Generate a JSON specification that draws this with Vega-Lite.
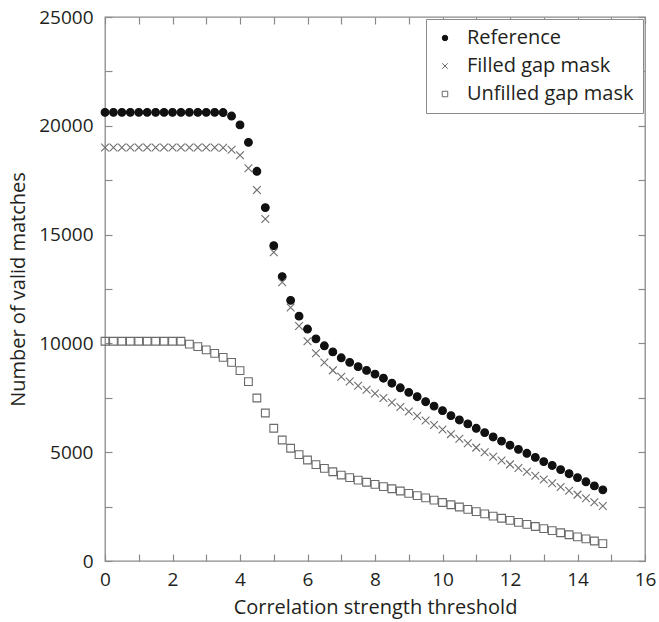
{
  "$schema": "https://vega.github.io/schema/vega-lite/v6.json",
  "width": 540,
  "height": 544,
  "autosize": {"type": "none"},
  "padding": {"left": 105, "top": 17, "right": 14, "bottom": 61},
  "background": "white",
  "config": {
    "font": "Open Sans",
    "view": {"stroke": "#8a8a8a", "strokeWidth": 1.3},
    "axis": {
      "grid": false,
      "domain": false,
      "tickColor": "#8a8a8a",
      "tickWidth": 1.2,
      "tickSize": -7,
      "labelColor": "#231f20",
      "titleColor": "#231f20",
      "labelFontSize": 19,
      "titleFontSize": 20,
      "titleFontWeight": "normal",
      "labelFlush": false,
      "labelOverlap": false
    },
    "legend": {
      "labelFontSize": 20,
      "labelColor": "#231f20",
      "labelLimit": 400,
      "symbolSize": 30,
      "symbolStrokeWidth": 1
    }
  },
  "data": {
    "values": [
      {"t": 0, "Reference": 20620, "Filled gap mask": 19000, "Unfilled gap mask": 10100},
      {"t": 0.25, "Reference": 20620, "Filled gap mask": 19000, "Unfilled gap mask": 10100},
      {"t": 0.5, "Reference": 20620, "Filled gap mask": 19000, "Unfilled gap mask": 10100},
      {"t": 0.75, "Reference": 20620, "Filled gap mask": 19000, "Unfilled gap mask": 10100},
      {"t": 1, "Reference": 20620, "Filled gap mask": 19000, "Unfilled gap mask": 10100},
      {"t": 1.25, "Reference": 20620, "Filled gap mask": 19000, "Unfilled gap mask": 10100},
      {"t": 1.5, "Reference": 20620, "Filled gap mask": 19000, "Unfilled gap mask": 10100},
      {"t": 1.75, "Reference": 20620, "Filled gap mask": 19000, "Unfilled gap mask": 10100},
      {"t": 2, "Reference": 20620, "Filled gap mask": 19000, "Unfilled gap mask": 10100},
      {"t": 2.25, "Reference": 20620, "Filled gap mask": 19000, "Unfilled gap mask": 10100},
      {"t": 2.5, "Reference": 20620, "Filled gap mask": 19000, "Unfilled gap mask": 9970},
      {"t": 2.75, "Reference": 20620, "Filled gap mask": 19000, "Unfilled gap mask": 9850},
      {"t": 3, "Reference": 20620, "Filled gap mask": 19000, "Unfilled gap mask": 9700},
      {"t": 3.25, "Reference": 20620, "Filled gap mask": 19000, "Unfilled gap mask": 9540},
      {"t": 3.5, "Reference": 20610, "Filled gap mask": 18990, "Unfilled gap mask": 9360},
      {"t": 3.75, "Reference": 20450, "Filled gap mask": 18900, "Unfilled gap mask": 9130},
      {"t": 4, "Reference": 20040, "Filled gap mask": 18650, "Unfilled gap mask": 8750},
      {"t": 4.25, "Reference": 19240, "Filled gap mask": 18050, "Unfilled gap mask": 8240},
      {"t": 4.5, "Reference": 17910, "Filled gap mask": 17050, "Unfilled gap mask": 7490},
      {"t": 4.75, "Reference": 16240, "Filled gap mask": 15720, "Unfilled gap mask": 6800},
      {"t": 5, "Reference": 14490, "Filled gap mask": 14190, "Unfilled gap mask": 6100},
      {"t": 5.25, "Reference": 13070, "Filled gap mask": 12810, "Unfilled gap mask": 5560},
      {"t": 5.5, "Reference": 11980, "Filled gap mask": 11650, "Unfilled gap mask": 5180},
      {"t": 5.75, "Reference": 11250, "Filled gap mask": 10800, "Unfilled gap mask": 4890},
      {"t": 6, "Reference": 10660, "Filled gap mask": 10100, "Unfilled gap mask": 4640},
      {"t": 6.25, "Reference": 10210, "Filled gap mask": 9550, "Unfilled gap mask": 4430},
      {"t": 6.5, "Reference": 9890, "Filled gap mask": 9120, "Unfilled gap mask": 4260},
      {"t": 6.75, "Reference": 9610, "Filled gap mask": 8760, "Unfilled gap mask": 4100},
      {"t": 7, "Reference": 9340, "Filled gap mask": 8470, "Unfilled gap mask": 3950},
      {"t": 7.25, "Reference": 9130, "Filled gap mask": 8250, "Unfilled gap mask": 3830},
      {"t": 7.5, "Reference": 8930, "Filled gap mask": 8050, "Unfilled gap mask": 3720},
      {"t": 7.75, "Reference": 8760, "Filled gap mask": 7870, "Unfilled gap mask": 3620},
      {"t": 8, "Reference": 8590, "Filled gap mask": 7700, "Unfilled gap mask": 3520},
      {"t": 8.25, "Reference": 8400, "Filled gap mask": 7490, "Unfilled gap mask": 3420},
      {"t": 8.5, "Reference": 8170, "Filled gap mask": 7280, "Unfilled gap mask": 3320},
      {"t": 8.75, "Reference": 7960, "Filled gap mask": 7080, "Unfilled gap mask": 3215},
      {"t": 9, "Reference": 7750, "Filled gap mask": 6870, "Unfilled gap mask": 3110},
      {"t": 9.25, "Reference": 7550, "Filled gap mask": 6660, "Unfilled gap mask": 3005},
      {"t": 9.5, "Reference": 7320, "Filled gap mask": 6460, "Unfilled gap mask": 2900},
      {"t": 9.75, "Reference": 7120, "Filled gap mask": 6250, "Unfilled gap mask": 2795},
      {"t": 10, "Reference": 6910, "Filled gap mask": 6040, "Unfilled gap mask": 2690},
      {"t": 10.25, "Reference": 6680, "Filled gap mask": 5830, "Unfilled gap mask": 2585},
      {"t": 10.5, "Reference": 6480, "Filled gap mask": 5620, "Unfilled gap mask": 2480},
      {"t": 10.75, "Reference": 6300, "Filled gap mask": 5410, "Unfilled gap mask": 2375},
      {"t": 11, "Reference": 6100, "Filled gap mask": 5210, "Unfilled gap mask": 2270},
      {"t": 11.25, "Reference": 5900, "Filled gap mask": 5000, "Unfilled gap mask": 2165},
      {"t": 11.5, "Reference": 5700, "Filled gap mask": 4790, "Unfilled gap mask": 2060},
      {"t": 11.75, "Reference": 5510, "Filled gap mask": 4620, "Unfilled gap mask": 1965},
      {"t": 12, "Reference": 5320, "Filled gap mask": 4440, "Unfilled gap mask": 1870},
      {"t": 12.25, "Reference": 5130, "Filled gap mask": 4270, "Unfilled gap mask": 1775},
      {"t": 12.5, "Reference": 4950, "Filled gap mask": 4100, "Unfilled gap mask": 1680},
      {"t": 12.75, "Reference": 4760, "Filled gap mask": 3920, "Unfilled gap mask": 1585},
      {"t": 13, "Reference": 4570, "Filled gap mask": 3750, "Unfilled gap mask": 1490},
      {"t": 13.25, "Reference": 4390, "Filled gap mask": 3570, "Unfilled gap mask": 1395},
      {"t": 13.5, "Reference": 4200, "Filled gap mask": 3400, "Unfilled gap mask": 1300},
      {"t": 13.75, "Reference": 4010, "Filled gap mask": 3230, "Unfilled gap mask": 1205},
      {"t": 14, "Reference": 3830, "Filled gap mask": 3050, "Unfilled gap mask": 1110},
      {"t": 14.25, "Reference": 3640, "Filled gap mask": 2880, "Unfilled gap mask": 1015},
      {"t": 14.5, "Reference": 3450, "Filled gap mask": 2700, "Unfilled gap mask": 920},
      {"t": 14.75, "Reference": 3270, "Filled gap mask": 2530, "Unfilled gap mask": 800}
    ]
  },
  "transform": [
    {"fold": ["Reference", "Filled gap mask", "Unfilled gap mask"], "as": ["series", "n"]}
  ],
  "layer": [
    {
      "mark": {"type": "point", "opacity": 1, "strokeWidth": 1.1, "size": 60},
      "encoding": {
        "x": {
          "field": "t", "type": "quantitative",
          "scale": {"domain": [0, 16], "nice": false, "zero": false},
          "axis": {
            "orient": "bottom",
            "values": [0,1,2,3,4,5,6,7,8,9,10,11,12,13,14,15,16],
            "labelExpr": "datum.value % 2 === 0 ? datum.label : ''",
            "labelPadding": 16,
            "title": "Correlation strength threshold",
            "titlePadding": 8
          }
        },
        "y": {
          "field": "n", "type": "quantitative",
          "scale": {"domain": [0, 25000], "nice": false},
          "axis": {
            "orient": "left",
            "values": [0,2500,5000,7500,10000,12500,15000,17500,20000,22500,25000],
            "labelExpr": "datum.value % 5000 === 0 ? format(datum.value, 'd') : ''",
            "labelPadding": 19,
            "title": "Number of valid matches",
            "titlePadding": 10
          }
        },
        "shape": {
          "field": "series", "type": "nominal",
          "scale": {
            "domain": ["Reference", "Filled gap mask", "Unfilled gap mask"],
            "range": ["circle", "M-1,-1L1,1M1,-1L-1,1", "square"]
          },
          "legend": {
            "title": null,
            "orient": "top-right",
            "offset": 2,
            "strokeColor": "#8a8a8a",
            "fillColor": "white",
            "padding": 9,
            "rowPadding": 8,
            "labelOffset": 12
          }
        },
        "fill": {
          "field": "series", "type": "nominal",
          "scale": {
            "domain": ["Reference", "Filled gap mask", "Unfilled gap mask"],
            "range": ["#111111", "transparent", "transparent"]
          }
        },
        "stroke": {
          "field": "series", "type": "nominal",
          "scale": {
            "domain": ["Reference", "Filled gap mask", "Unfilled gap mask"],
            "range": ["#111111", "#6e6e6e", "#6a6a6a"]
          }
        }
      }
    },
    {
      "mark": {"type": "point", "opacity": 0},
      "encoding": {
        "x": {
          "field": "t", "type": "quantitative",
          "axis": {"orient": "top", "values": [0,1,2,3,4,5,6,7,8,9,10,11,12,13,14,15,16], "labels": false, "title": null}
        },
        "y": {
          "field": "n", "type": "quantitative",
          "axis": {"orient": "right", "values": [0,2500,5000,7500,10000,12500,15000,17500,20000,22500,25000], "labels": false, "title": null}
        }
      }
    }
  ],
  "resolve": {"axis": {"x": "independent", "y": "independent"}}
}
